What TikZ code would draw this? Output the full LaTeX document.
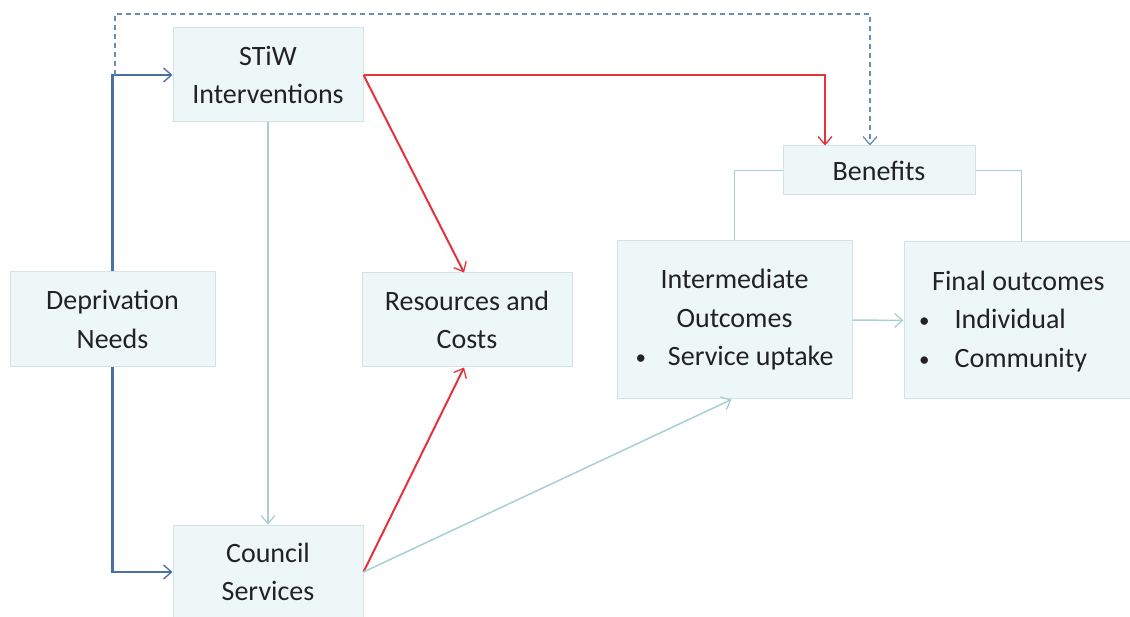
\documentclass[tikz,border=0pt]{standalone}
\usepackage{fontspec}
\setmainfont{Carlito}
\usetikzlibrary{arrows.meta,calc}
\definecolor{boxfill}{HTML}{EEF7F8}
\definecolor{boxline}{HTML}{D3E2E4}
\definecolor{bluel}{HTML}{4A6FA5}
\definecolor{redl}{HTML}{E5323C}
\definecolor{lightl}{HTML}{A9CFD3}
\definecolor{dashl}{HTML}{6A8DB8}
\definecolor{txt}{HTML}{222222}
\newcommand{\mybul}{\raisebox{1pt}{\scalebox{0.75}{•}}}
\begin{document}
\begin{tikzpicture}[x=1pt,y=-1pt,
  every node/.style={font=\fontsize{28}{38.5}\selectfont, text=txt},
  box/.style={draw=boxline, fill=boxfill, line width=1pt, inner sep=0pt, align=center},
  tip/.style={-{Straight Barb[length=8pt,width=14pt,line width=1.3pt]}},
  blueline/.style={draw=bluel, line width=2.5pt, tip},
  redline/.style={draw=redl, line width=2pt, tip},
  lightline/.style={draw=lightl, line width=1.5pt},
  lightarrow/.style={lightline, tip},
  dashline/.style={draw=dashl, line width=1.5pt, dash pattern=on 5pt off 4pt, tip}]
\useasboundingbox (0,0) rectangle (1130,617);
\node[box, minimum width=190pt, minimum height=94pt] (stiw) at (268,75) {STiW\\Interventions};
\node[box, minimum width=205pt, minimum height=95pt] (dep) at (112.5,319.5) {Deprivation\\Needs};
\node[box, minimum width=210pt, minimum height=94pt] (res) at (467,320) {Resources and\\Costs};
\node[box, minimum width=190pt, minimum height=94pt] (council) at (268,572) {Council\\Services};
\node[box, minimum width=192pt, minimum height=49pt] (ben) at (879,170.5) {Benefits};
\node[box, minimum width=235pt, minimum height=158pt] (inter) at (734.5,320) {Intermediate\\Outcomes\\\makebox[0pt][c]{\mybul\hspace{22pt}Service uptake}};
\node[box, minimum width=235pt, minimum height=157pt] (final) at (1021.5,320.5) {};
\node[anchor=west, align=left, inner sep=0pt] (finaltext) at (919,321.5) {\hspace{13pt}Final outcomes\\\mybul\hspace{25pt}Individual\\\mybul\hspace{25pt}Community};
% blue
\draw[blueline] (dep.north) |- (stiw.west);
\draw[blueline] (dep.south) |- (council.west);
\coordinate (dstart) at (115,75);
% dashed
\draw[dashline] (dstart) -- ++(0,-61) -| ([xshift=-9pt]ben.north);
% red
\draw[redline] (stiw.east) -| ([xshift=-54pt]ben.north);
\draw[redline] (stiw.east) -- ([xshift=-3pt]res.north);
\draw[redline] (council.east) -- ([xshift=-3pt]res.south);
% light
\draw[lightarrow] (stiw.south) -- (council.north);
\draw[lightarrow] (council.east) -- ([xshift=-3pt]inter.south);
\draw[lightarrow] (inter.east) -- (final.west);
\draw[lightline] (ben.west) -| (inter.north);
\draw[lightline] (ben.east) -| (final.north);
\end{tikzpicture}
\end{document}
